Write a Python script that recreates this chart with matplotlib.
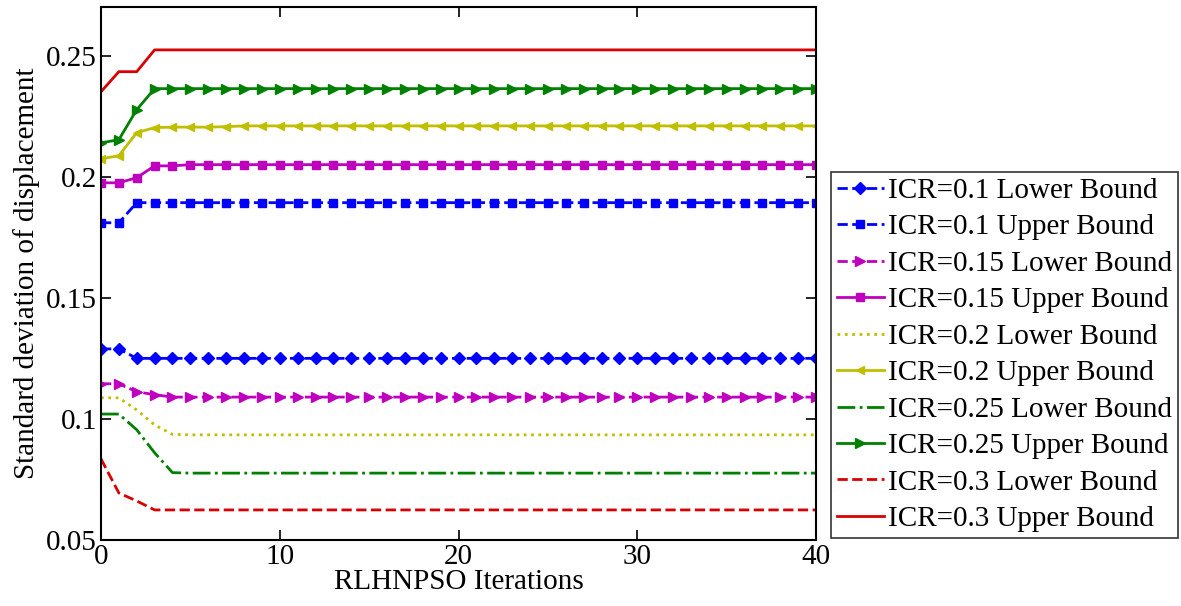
import matplotlib
matplotlib.use("Agg")
import matplotlib.pyplot as plt
import numpy as np

plt.rcParams['font.family'] = ['Liberation Serif', 'DejaVu Serif']

iters = np.arange(41)

# values, first few iterations then flat
def series(start, final):
    return list(start) + [final] * (41 - len(start))

low_01 = series([0.1289, 0.1289], 0.1250)
up_01 = series([0.1810, 0.1810], 0.1893)
low_015 = series([0.1145, 0.1145, 0.1112, 0.1100], 0.1090)
up_015 = series([0.1975, 0.1975, 0.1996, 0.2045, 0.2045], 0.2050)
low_02 = series([0.1087, 0.1087, 0.1037, 0.0975, 0.0936], 0.0934)
up_02 = series([0.2074, 0.2087, 0.2182, 0.2203, 0.2205, 0.2205, 0.2205, 0.2207], 0.2210)
low_025 = series([0.1020, 0.1020, 0.0955, 0.0860, 0.0778], 0.0776)
up_025 = series([0.2140, 0.2153, 0.2277], 0.2364)
low_03 = series([0.0835, 0.0694, 0.0661], 0.0624)
up_03 = series([0.2351, 0.2434, 0.2434], 0.2524)

labels = ["ICR=0.1 Lower Bound", "ICR=0.1 Upper Bound",
          "ICR=0.15 Lower Bound", "ICR=0.15 Upper Bound",
          "ICR=0.2 Lower Bound", "ICR=0.2 Upper Bound",
          "ICR=0.25 Lower Bound", "ICR=0.25 Upper Bound",
          "ICR=0.3 Lower Bound", "ICR=0.3 Upper Bound"]
data = [low_01, up_01, low_015, up_015, low_02, up_02, low_025, up_025, low_03, up_03]

blue = (0, 0, 1)
mag = (0.75, 0, 0.75)
yel = (0.75, 0.75, 0)
grn = (0, 0.5, 0)
red = (0.85, 0, 0)
styles = [
    dict(color=blue, ls='--', marker='D', ms=6),
    dict(color=blue, ls='--', marker='s', ms=6),
    dict(color=mag, ls='--', marker='>', ms=7),
    dict(color=mag, ls='-', marker='s', ms=6),
    dict(color=yel, ls=':', marker=None),
    dict(color=yel, ls='-', marker='<', ms=6),
    dict(color=grn, ls='-.', marker=None),
    dict(color=grn, ls='-', marker='>', ms=7),
    dict(color=red, ls='--', marker=None),
    dict(color=red, ls='-', marker=None),
]

fs = 21

fig = plt.figure(figsize=(11.81, 6.06), dpi=100)
ax = fig.add_axes([0.0855, 0.109, 0.6055, 0.879])

for y, lab, st in zip(data, labels, styles):
    ax.plot(iters, y, label=lab, lw=2, **st)

ax.set_xlim(0, 40)
ax.set_ylim(0.05, 0.27)
ax.set_xticks([0, 10, 20, 30, 40])
ax.set_yticks([0.05, 0.1, 0.15, 0.2, 0.25])
ax.set_yticklabels(["0.05", "0.1", "0.15", "0.2", "0.25"])
ax.tick_params(direction='in', top=True, right=True, labelsize=fs, width=1.2, length=7, pad=3)
for sp in ax.spines.values():
    sp.set_linewidth(1.5)
ax.set_xlabel("RLHNPSO Iterations", fontsize=fs, labelpad=-1)
ax.set_ylabel("Standard deviation of displacement", fontsize=fs, labelpad=4)

# legend sits outside the axes on the right
leg = fig.legend(loc='lower left', bbox_to_anchor=(831 / 1181, 1 - 538 / 606),
                 fontsize=fs, frameon=True, fancybox=False, edgecolor='black',
                 handlelength=1.6, handletextpad=0.15, borderpad=0.2,
                 labelspacing=0.345, borderaxespad=0)
leg.get_frame().set_linewidth(1.2)

fig.savefig("out.png", dpi=100)
